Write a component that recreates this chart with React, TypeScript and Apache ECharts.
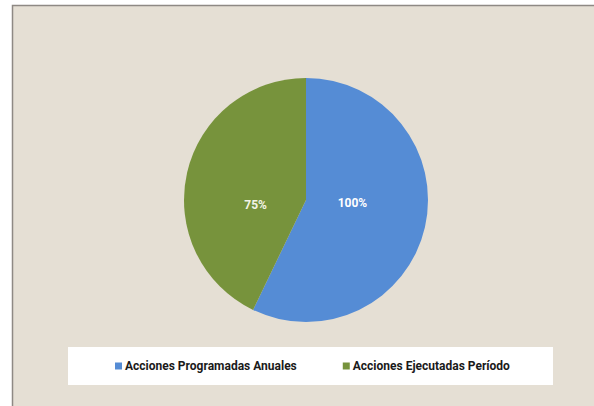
import React, { useEffect, useRef } from "react";
import * as echarts from "echarts";

const categories = ["Acciones Programadas Anuales", "Acciones Ejecutadas Período"];
const values = [100, 75];
const colors = ["#558CD5", "#77933C"];
const labelColors = ["#ffffff", "#f3f3e6"];
// label nudges (style only) to mimic the original placement
const labelNudges: [number, number][] = [[-16, -11], [12, 19]];

export default function App() {
  const ref = useRef<HTMLDivElement>(null);
  useEffect(() => {
    if (!ref.current) return;
    const chart = echarts.init(ref.current, undefined, { renderer: "svg" });
    const font = "Roboto, 'Liberation Sans', Arial, sans-serif";
    chart.setOption({
      animation: false,
      backgroundColor: "#ffffff",
      graphic: [
        {
          type: "rect",
          z: -10,
          silent: true,
          shape: { x: 12.5, y: 5.5, width: 640, height: 460 },
          style: { fill: "#e5dfd4", stroke: "#8e8984", lineWidth: 1.5 },
        },
        {
          type: "rect",
          z: -5,
          silent: true,
          shape: { x: 68, y: 347, width: 485, height: 38 },
          style: { fill: "#ffffff" },
        },
      ],
      legend: {
        data: categories,
        left: 115,
        top: 359,
        orient: "horizontal",
        icon: "rect",
        itemWidth: 7,
        itemHeight: 7,
        itemGap: 46,
        padding: 0,
        textStyle: {
          fontFamily: font,
          fontSize: 12,
          fontWeight: "bold",
          color: "#1a1a1a",
          padding: [0, 0, 0, -2],
          lineHeight: 14,
        },
      },
      series: [
        {
          type: "pie",
          center: [306, 200],
          radius: 122,
          startAngle: 90,
          clockwise: true,
          avoidLabelOverlap: false,
          data: categories.map((name, i) => ({
            name,
            value: values[i],
            itemStyle: { color: colors[i] },
            label: { color: labelColors[i] },
          })),
          itemStyle: { borderWidth: 0 },
          label: {
            show: true,
            position: "inside",
            formatter: (p: any) => `${p.value}%`,
            fontFamily: font,
            fontSize: 12,
            fontWeight: "bold",
          },
          labelLine: { show: false },
          labelLayout: (p: any) => {
            const n = labelNudges[p.dataIndex] || [0, 0];
            return { dx: n[0], dy: n[1] };
          },
          emphasis: { disabled: true },
        },
      ],
    });
    return () => chart.dispose();
  }, []);
  return (
    <div
      ref={ref}
      style={{ position: "absolute", left: 0, top: 0, width: 594, height: 406 }}
    />
  );
}
